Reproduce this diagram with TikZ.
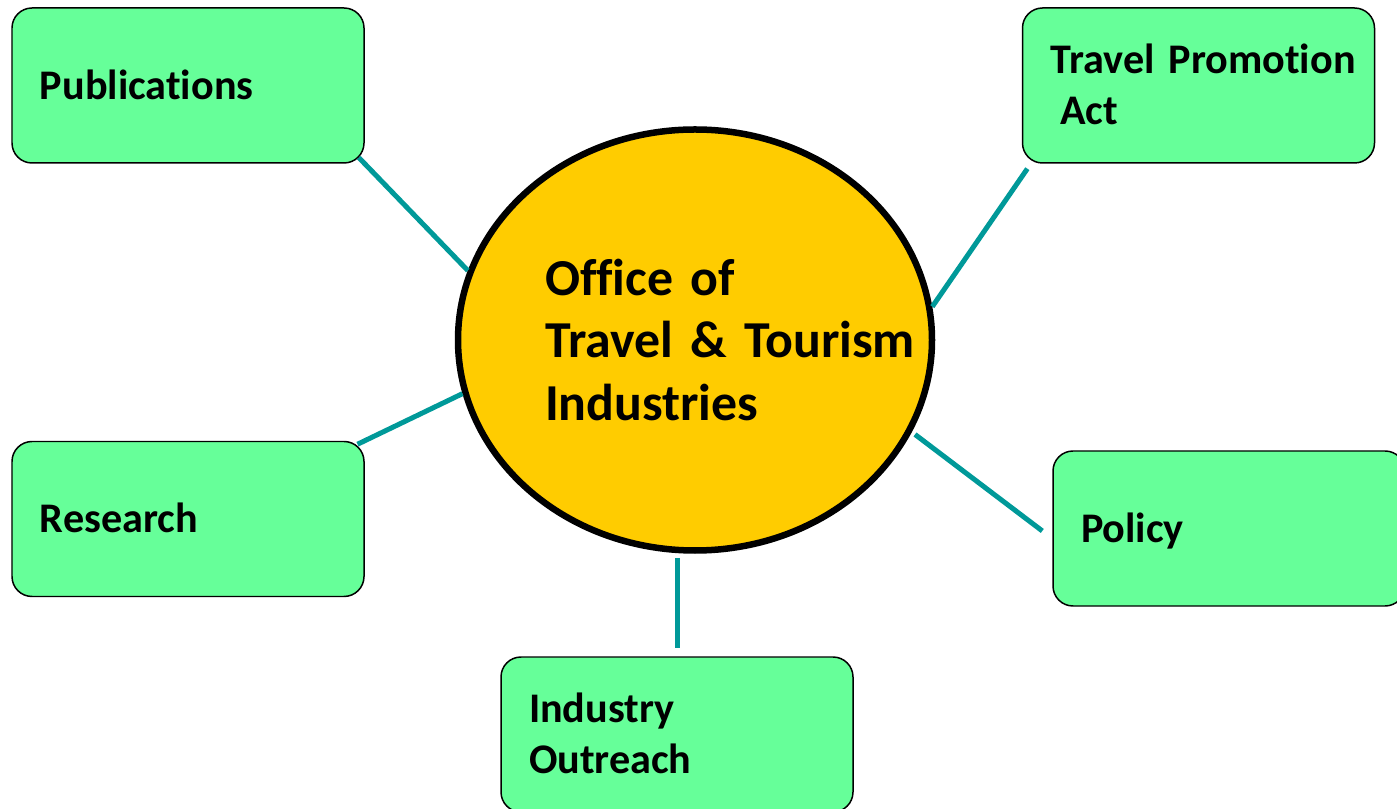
\documentclass[tikz,border=0pt]{standalone}
\usepackage{fontspec}
\setmainfont{Carlito}[Ligatures=NoCommon]
\usetikzlibrary{shapes.geometric}
\definecolor{boxgreen}{RGB}{102,255,153}
\definecolor{hubgold}{RGB}{255,204,0}
\definecolor{linkteal}{RGB}{0,153,153}
\newcommand{\lblstrut}{\rule[-4.6pt]{0pt}{24.6pt}}
\newcommand{\hubstrut}{\rule[-5pt]{0pt}{30.4pt}}
\tikzset{
  topic/.style={draw,rounded corners=0.4cm,fill=boxgreen,line width=0.85pt,
    minimum width=7.04cm,minimum height=3.1cm,text width=5.92cm,inner xsep=0.56cm,inner ysep=0pt,
    align=left,font=\fontsize{24}{28.5}\selectfont\bfseries,
    execute at begin node=\lblstrut,execute at end node=\lblstrut},
  hub/.style={draw,ellipse,fill=hubgold,line width=3.7pt,
    minimum width=9.48cm,minimum height=8.42cm,inner sep=0pt,text width=6cm,
    align=left,font=\fontsize{29.5}{35.8}\selectfont\bfseries,
    execute at begin node=\hubstrut,execute at end node=\hubstrut},
  link/.style={linkteal,line width=2.85pt}
}
\begin{document}
\begin{tikzpicture}
\clip (0,0) rectangle (27.94,16.16);
\node[hub] (office) at (13.9,9.36) {Office of\\\mbox{Travel \& Tourism}\\Industries};
\node[topic] (pub) at (3.76,14.45) {Publications};
\node[topic] (tpa) at (23.97,14.45) {\mbox{Travel Promotion}\\\hspace*{0.19cm}Act};
\node[topic] (res) at (3.76,5.78) {Research};
\node[topic] (pol) at (24.58,5.59) {Policy};
\node[topic] (io) at (13.54,1.47) {Industry\\Outreach};
\draw [link,shorten <=-0.17cm](pub.south east) -- (office.163);
\draw [link,shorten <=0.12cm]([xshift=0.18cm]tpa.south west) -- (office.8);
\draw [link,shorten <=-0.16cm](res.north east) -- (office.193);
\draw [link,shorten <=0.08cm,shorten >=0.25cm](office.337) -- ([yshift=-0.2cm]pol.west);
\draw [link,shorten <=0.08cm,shorten >=0.16cm](office.south -| io.north) -- (io.north);
\end{tikzpicture}
\end{document}
